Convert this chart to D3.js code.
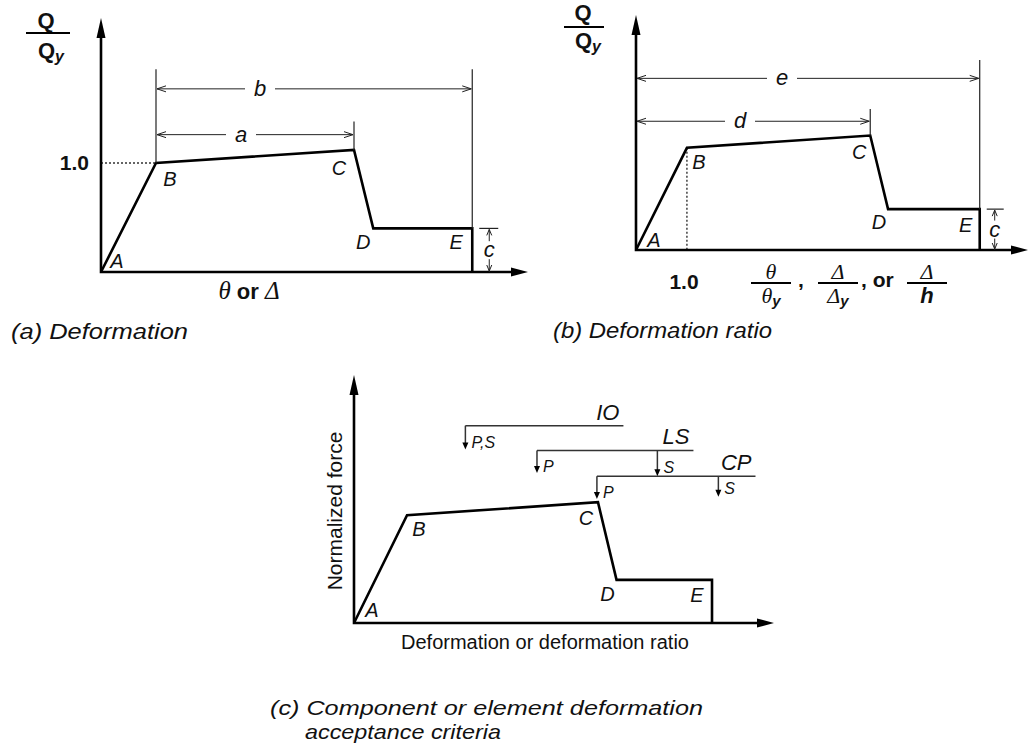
<!DOCTYPE html>
<html><head><meta charset="utf-8">
<script src="https://cdn.jsdelivr.net/npm/d3@7/dist/d3.min.js"></script>
<style>
body{margin:0;background:#fff}
svg text{font-family:"Liberation Sans",Arial,Helvetica,sans-serif;fill:#111}
.it{font-style:italic}
.serif{font-family:"Liberation Serif","Times New Roman",serif !important}
</style>
</head><body><svg width="1028" height="748"></svg>
<script>
// ---------- DATA ----------
const pointLabels = ["A", "B", "C", "D", "E"];
const deformation = [0, 1.0, 4.6, 4.95, 6.75];     // normalized deformation (B = yield = 1.0)
const normForce   = [0, 1.0, 1.12, 0.40, 0.40];    // Q / Qy
const yieldTickLabel = "1.0";

// dimension annotations (panel a: measured from B; panel b: from origin)
const dimNamesA = ["a", "b"];
const dimNamesB = ["d", "e"];
const dimEndPoint = [2, 4];          // index of point C and E
const dimLineLevel = [1.26, 1.68];   // height (Q/Qy) of the dimension arrows
const dimExtTop = [1.38, 1.86];      // top of extension lines
const residualName = "c";

// acceptance criteria (panel c)
const levels = ["IO", "LS", "CP"];
const levelY = [1.83, 1.60, 1.36];
const levelStart = [2.1, 3.45, 4.58];
const levelEnd = [5.08, 6.4, 7.57];
const primaryLabel = ["P,S", "P", "P"];
const primaryTo = [1.61, 1.39, 1.15];
const secondaryX = [null, 5.72, 6.87];
const secondaryLabel = [null, "S", "S"];
const secondaryTo = [null, 1.36, 1.17];

// ---------- DRAW ----------
const svg = d3.select("svg");
const line = d3.line();

function arrowHead(g, x, y, dx, dy, len, hw, filled, sw) {
  const bx = x - dx * len, by = y - dy * len;
  const px = -dy * hw, py = dx * hw;
  if (filled) {
    g.append("path").attr("d", `M${x},${y}L${bx + px},${by + py}L${bx - px},${by - py}Z`).attr("fill", "#000");
  } else {
    g.append("path").attr("d", `M${bx + px},${by + py}L${x},${y}L${bx - px},${by - py}`)
      .attr("fill", "none").attr("stroke", "#222").attr("stroke-width", sw || 1);
  }
}

function drawAxes(g, x, y, xTip, yTip) {
  g.append("path").attr("d", line([[x(0), yTip + 10], [x(0), y(0)], [xTip - 10, y(0)]]))
    .attr("fill", "none").attr("stroke", "#000").attr("stroke-width", 2.6);
  arrowHead(g, x(0), yTip, 0, -1, 20, 4.5, true);
  arrowHead(g, xTip, y(0), 1, 0, 17, 4.5, true);
}

function drawBackbone(g, x, y) {
  const pts = deformation.map((d, i) => [x(d), y(normForce[i])]);
  pts.push([x(deformation[4]), y(0)]);
  g.append("path").attr("d", line(pts)).attr("fill", "none")
    .attr("stroke", "#000").attr("stroke-width", 2.6).attr("stroke-linejoin", "miter");
}

function drawPointLabels(g, x, y, offs) {
  pointLabels.forEach((lab, i) => {
    g.append("text").attr("class", "it").attr("x", x(deformation[i]) + offs[i][0])
      .attr("y", y(normForce[i]) + offs[i][1]).attr("text-anchor", "middle")
      .attr("font-size", 20).text(lab);
  });
}

function dimArrow(g, x1, x2, yy, label, lx) {
  g.append("line").attr("x1", x1 + 1).attr("x2", x2 - 1).attr("y1", yy).attr("y2", yy)
    .attr("stroke", "#222").attr("stroke-width", 1);
  arrowHead(g, x1 + 1, yy, -1, 0, 9, 3, false, 1);
  arrowHead(g, x2 - 1, yy, 1, 0, 9, 3, false, 1);
  g.append("rect").attr("x", lx - 15).attr("y", yy - 11).attr("width", 30).attr("height", 22).attr("fill", "#fff");
  g.append("text").attr("class", "it").attr("x", lx).attr("y", yy + 7).attr("text-anchor", "middle")
    .attr("font-size", 22).text(label);
}

function extLine(g, xx, yTop, yBot) {
  g.append("line").attr("x1", xx).attr("x2", xx).attr("y1", yTop).attr("y2", yBot)
    .attr("stroke", "#222").attr("stroke-width", 1.2);
}

function residualDim(g, x, y, dx) {
  const xe = x(deformation[4]);
  const yt = y(normForce[4]), yb = y(0);
  const ax = xe + dx;
  g.append("line").attr("x1", xe + 7).attr("x2", xe + dx + 9).attr("y1", yt).attr("y2", yt)
    .attr("stroke", "#222").attr("stroke-width", 1.2);
  const mid = (yt + yb) / 2;
  g.append("line").attr("x1", ax).attr("x2", ax).attr("y1", yt + 1).attr("y2", mid - 9).attr("stroke", "#222");
  g.append("line").attr("x1", ax).attr("x2", ax).attr("y1", mid + 9).attr("y2", yb).attr("stroke", "#222");
  arrowHead(g, ax, yt + 1, 0, -1, 6, 2.5, false, 1);
  arrowHead(g, ax, yb - 1, 0, 1, 6, 2.5, false, 1);
  g.append("text").attr("class", "it").attr("x", ax).attr("y", mid + 7).attr("text-anchor", "middle")
    .attr("font-size", 22).text(residualName);
}

function qOverQy(g, cx, topBase, lineY, x1, x2, botBase) {
  g.append("text").attr("x", cx - 5).attr("y", topBase).attr("text-anchor", "middle")
    .attr("font-weight", "bold").attr("font-size", 22).text("Q");
  g.append("line").attr("x1", x1).attr("x2", x2).attr("y1", lineY).attr("y2", lineY)
    .attr("stroke", "#000").attr("stroke-width", 2.2);
  const t = g.append("text").attr("x", cx).attr("y", botBase).attr("text-anchor", "middle")
    .attr("font-weight", "bold").attr("font-size", 22);
  t.append("tspan").text("Q");
  t.append("tspan").attr("font-style", "italic").attr("font-size", 16).attr("dy", 4).text("y");
}

const offsA = [[16, -4], [14, 23], [-15, 25], [-10, 21], [-16, 21]];
const offsB = [[18, -3], [12, 21], [-11, 23], [-9, 20], [-14, 23]];
const offsC = [[18, -6], [12, 21], [-12, 23], [-9, 21], [-15, 22]];

// ===== Panel (a) =====
{
  const g = svg.append("g");
  const x = d3.scaleLinear().domain([0, 7.6]).range([101, 519]);
  const y = d3.scaleLinear().domain([0, 2.33]).range([272, 18]);
  g.append("line").attr("x1", x(0)).attr("x2", x(1)).attr("y1", y(1)).attr("y2", y(1))
    .attr("stroke", "#333").attr("stroke-width", 1.4).attr("stroke-dasharray", "2,2");
  drawAxes(g, x, y, 528, 18);
  drawBackbone(g, x, y);
  extLine(g, x(deformation[1]), y(dimExtTop[1]), y(normForce[1]));
  extLine(g, x(deformation[2]), y(dimExtTop[0]), y(normForce[2]));
  extLine(g, x(deformation[4]), y(dimExtTop[1]), y(normForce[4]));
  dimArrow(g, x(deformation[1]), x(deformation[dimEndPoint[0]]), y(dimLineLevel[0]), dimNamesA[0], 241);
  dimArrow(g, x(deformation[1]), x(deformation[dimEndPoint[1]]), y(dimLineLevel[1]), dimNamesA[1], 260);
  residualDim(g, x, y, 17);
  drawPointLabels(g, x, y, offsA);
  g.append("text").attr("x", 89).attr("y", y(1) + 7).attr("text-anchor", "end")
    .attr("font-weight", "bold").attr("font-size", 21).text(yieldTickLabel);
  qOverQy(g, 51, 28, 33, 26, 70, 58);
  const xl = g.append("text").attr("x", 249).attr("y", 299).attr("text-anchor", "middle").attr("font-size", 22);
  xl.append("tspan").attr("class", "serif it").attr("font-size", 25).text("θ");
  xl.append("tspan").attr("font-weight", "bold").text(" or ");
  xl.append("tspan").attr("class", "serif it").attr("font-size", 25).text("Δ");
  g.append("text").attr("class", "it").attr("x", 11).attr("y", 339).attr("font-size", 22)
    .attr("textLength", 177).attr("lengthAdjust", "spacingAndGlyphs").text("(a) Deformation");
}

// ===== Panel (b) =====
{
  const g = svg.append("g");
  const x = d3.scaleLinear().domain([0, 7.6]).range([636, 1023]);
  const y = d3.scaleLinear().domain([0, 2.3]).range([250, 15]);
  g.append("line").attr("x1", x(1)).attr("x2", x(1)).attr("y1", y(1)).attr("y2", y(0))
    .attr("stroke", "#333").attr("stroke-width", 1.4).attr("stroke-dasharray", "2,2");
  drawAxes(g, x, y, 1028, 15);
  drawBackbone(g, x, y);
  extLine(g, x(deformation[2]), y(dimExtTop[0]), y(normForce[2]));
  extLine(g, x(deformation[4]), y(dimExtTop[1]), y(normForce[4]));
  dimArrow(g, x(0), x(deformation[dimEndPoint[0]]), y(dimLineLevel[0]), dimNamesB[0], 740);
  dimArrow(g, x(0), x(deformation[dimEndPoint[1]]), y(dimLineLevel[1]), dimNamesB[1], 782);
  residualDim(g, x, y, 15);
  drawPointLabels(g, x, y, offsB);
  g.append("text").attr("x", 684).attr("y", 289).attr("text-anchor", "middle")
    .attr("font-weight", "bold").attr("font-size", 21).text(yieldTickLabel);
  qOverQy(g, 588, 20, 27, 564, 604, 48);
  function frac(cx, num, den, sub, denBold) {
    g.append("text").attr("class", "serif it").attr("x", cx).attr("y", 279).attr("text-anchor", "middle")
      .attr("font-size", 22).text(num);
    g.append("line").attr("x1", cx - 20).attr("x2", cx + 20).attr("y1", 283).attr("y2", 283)
      .attr("stroke", "#000").attr("stroke-width", 2.2);
    const t = g.append("text").attr("x", cx).attr("y", 303).attr("text-anchor", "middle").attr("font-size", 22);
    if (denBold) {
      t.append("tspan").attr("font-weight", "bold").attr("font-style", "italic").text(den);
    } else {
      t.append("tspan").attr("class", "serif it").text(den);
      t.append("tspan").attr("font-weight", "bold").attr("font-style", "italic").attr("font-size", 15).attr("dy", 3).text(sub);
    }
  }
  frac(771, "θ", "θ", "y", false);
  frac(838, "Δ", "Δ", "y", false);
  frac(927, "Δ", "h", "", true);
  g.append("text").attr("x", 798).attr("y", 287).attr("font-weight", "bold").attr("font-size", 21).text(",");
  g.append("text").attr("x", 861).attr("y", 287).attr("font-weight", "bold").attr("font-size", 21).text(", or");
  g.append("text").attr("class", "it").attr("x", 553).attr("y", 338).attr("font-size", 22)
    .attr("textLength", 219).attr("lengthAdjust", "spacingAndGlyphs").text("(b) Deformation ratio");
}

// ===== Panel (c) =====
{
  const g = svg.append("g");
  const x = d3.scaleLinear().domain([0, 7.9]).range([354, 773]);
  const y = d3.scaleLinear().domain([0, 2.3]).range([623, 375]);
  drawAxes(g, x, y, 774, 375);
  drawBackbone(g, x, y);
  drawPointLabels(g, x, y, offsC);
  levels.forEach((lv, i) => {
    const yy = y(levelY[i]);
    g.append("line").attr("x1", x(levelStart[i])).attr("x2", x(levelEnd[i])).attr("y1", yy).attr("y2", yy)
      .attr("stroke", "#333").attr("stroke-width", 1.5);
    g.append("text").attr("class", "it").attr("x", x(levelEnd[i]) - 4).attr("y", yy - 6)
      .attr("text-anchor", "end").attr("font-size", 22).text(lv);
    const px = x(levelStart[i]);
    g.append("line").attr("x1", px).attr("x2", px).attr("y1", yy).attr("y2", y(primaryTo[i]) - 4)
      .attr("stroke", "#333").attr("stroke-width", 1.5);
    arrowHead(g, px, y(primaryTo[i]), 0, 1, 7, 3, true);
    g.append("text").attr("class", "it").attr("x", px + 6).attr("y", y(primaryTo[i]) - 1)
      .attr("font-size", 16).text(primaryLabel[i]);
    if (secondaryX[i] !== null) {
      const sx = x(secondaryX[i]);
      g.append("line").attr("x1", sx).attr("x2", sx).attr("y1", yy).attr("y2", y(secondaryTo[i]) - 4)
        .attr("stroke", "#333").attr("stroke-width", 1.5);
      arrowHead(g, sx, y(secondaryTo[i]), 0, 1, 7, 3, true);
      g.append("text").attr("class", "it").attr("x", sx + 6).attr("y", y(secondaryTo[i]) - 3)
        .attr("font-size", 16).text(secondaryLabel[i]);
    }
  });
  g.append("text").attr("transform", "translate(342,511) rotate(-90)").attr("text-anchor", "middle")
    .attr("font-size", 21).text("Normalized force");
  g.append("text").attr("x", 545).attr("y", 649).attr("text-anchor", "middle")
    .attr("font-size", 20).text("Deformation or deformation ratio");
  g.append("text").attr("class", "it").attr("x", 270).attr("y", 715).attr("font-size", 21)
    .attr("textLength", 433).attr("lengthAdjust", "spacingAndGlyphs").text("(c) Component or element deformation");
  g.append("text").attr("class", "it").attr("x", 305).attr("y", 739).attr("font-size", 21)
    .attr("textLength", 196).attr("lengthAdjust", "spacingAndGlyphs").text("acceptance criteria");
}
</script>
</body></html>
